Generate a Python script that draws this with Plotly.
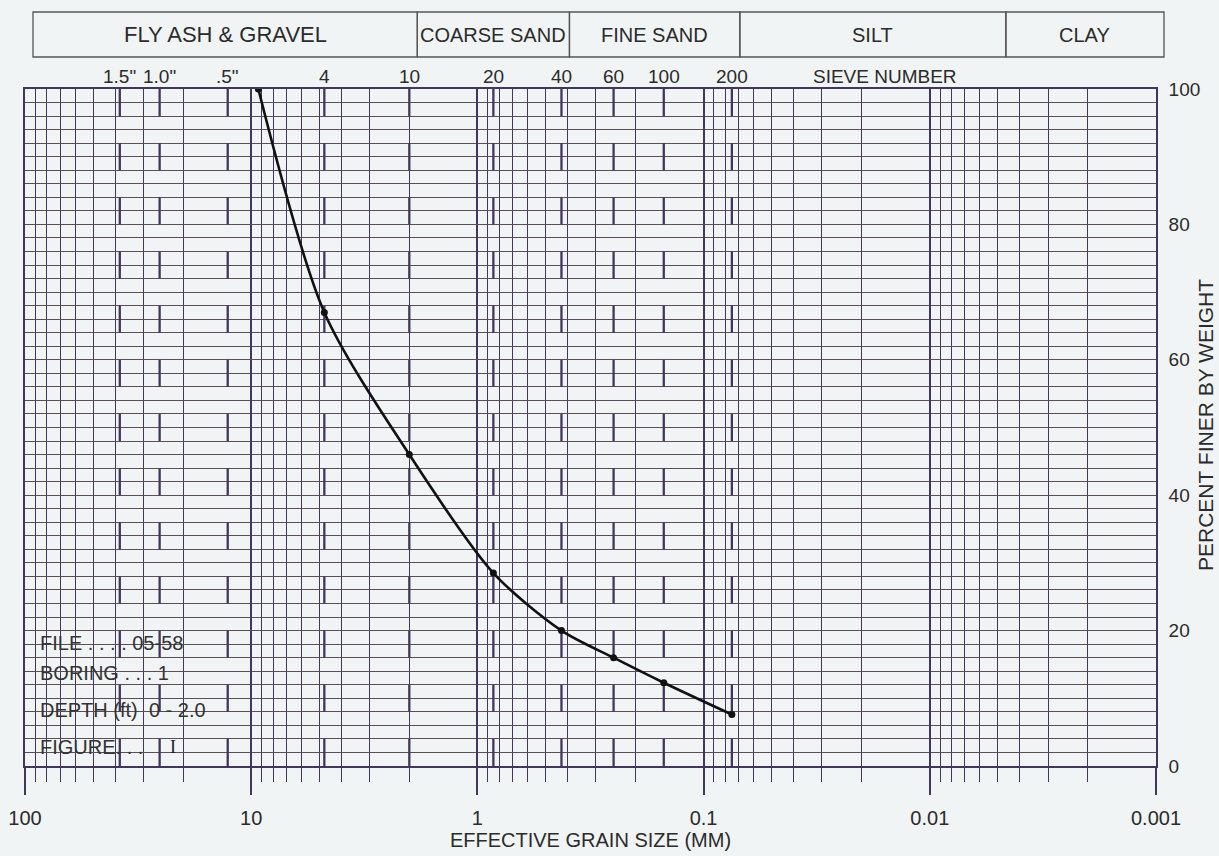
import math
import plotly.graph_objects as go

# ---------------- data ----------------
grain_size_mm = [9.3, 4.75, 2.0, 0.85, 0.425, 0.25, 0.15, 0.075]
percent_finer = [100, 67, 46, 28.5, 20, 16, 12.3, 7.6]

sieve_labels = ['1.5"', '1.0"', '.5"', '4', '10', '20', '40', '60', '100', '200']
sieve_sizes_mm = [38.1, 25.4, 12.7, 4.75, 2.0, 0.85, 0.425, 0.25, 0.15, 0.075]

band_labels = ["FLY ASH & GRAVEL", "COARSE SAND", "FINE SAND", "SILT", "CLAY"]
band_bounds_mm = [100, 2.0, 0.425, 0.075, 0.005, 0.001]

decade_vals = [100, 10, 1, 0.1, 0.01, 0.001]
decade_text = ["100", "10", "1", "0.1", "0.01", "0.001"]

info_labels = ["FILE . . . . 05-58", "BORING . . . 1", "DEPTH (ft)  0 - 2.0", "FIGURE. . ."]
info_pct = [18.1, 13.7, 8.2, 2.8]
figure_no = "I"

# ---------------- style ----------------
BG = "#f1f4f5"
VGRID = "#42355e"
HGRID = "#5e4c58"
TXT = "#2b2b2b"
FONT = "Liberation Sans, Arial, sans-serif"

LOG_HI, LOG_LO = 2, -3
PLOT_W, PLOT_H = 1131, 677


def xpaper(v, shift=0.0):
    return (LOG_HI - math.log10(v)) / (LOG_HI - LOG_LO) + shift


minor_vals = [k * 10 ** d for d in range(-3, 2) for k in range(2, 10)]

fig = go.Figure()

# sieve dashed markers
sx, sy = [], []
for s in sieve_sizes_mm:
    for top in range(100, 0, -8):
        sx += [s, s, None]
        sy += [top, top - 4, None]
fig.add_trace(go.Scatter(x=sx, y=sy, mode="lines",
                         line=dict(color=VGRID, width=2.3),
                         hoverinfo="skip", showlegend=False))

# gradation curve
fig.add_trace(go.Scatter(x=grain_size_mm, y=percent_finer, mode="lines+markers",
                         line=dict(color="#111111", width=2.6, shape="spline", smoothing=0.8),
                         marker=dict(color="#111111", size=7),
                         showlegend=False))

fig.update_layout(
    width=1219, height=856,
    margin=dict(l=25, r=63, t=89, b=90, autoexpand=False),
    paper_bgcolor=BG, plot_bgcolor=BG,
    font=dict(family=FONT, color=TXT, size=19),
    showlegend=False,
)

fig.update_xaxes(
    type="log", range=[LOG_HI, LOG_LO],
    tickmode="array", tickvals=decade_vals, ticktext=decade_text,
    ticks="outside", ticklen=27, tickwidth=1.6, tickcolor=VGRID,
    ticklabelstandoff=6,
    showgrid=True, gridcolor=VGRID, gridwidth=1.6,
    showline=True, linecolor=VGRID, linewidth=1.6, mirror=True,
    zeroline=False,
    tickfont=dict(size=20, color=TXT),
    title=dict(text="EFFECTIVE GRAIN SIZE (MM)", font=dict(size=20, color=TXT), standoff=2),
    minor=dict(tickmode="array", tickvals=minor_vals, ticks="outside", ticklen=14,
               tickwidth=1.4, tickcolor=VGRID, showgrid=True, gridcolor=VGRID, gridwidth=1.4),
)

fig.update_yaxes(
    range=[0, 100], side="right",
    tickmode="linear", tick0=0, dtick=20,
    ticks="", ticklabelstandoff=7,
    showgrid=True, gridcolor=HGRID, gridwidth=1.3,
    showline=True, linecolor=VGRID, linewidth=1.6, mirror=True,
    zeroline=False,
    tickfont=dict(size=19, color=TXT),
    minor=dict(dtick=2, showgrid=True, gridcolor=HGRID, gridwidth=1.2),
)

# y-axis title placed beside the tick labels
fig.add_annotation(xref="paper", yref="paper", x=(1205 - 25) / PLOT_W, y=(766 - 425) / PLOT_H,
                   xanchor="center", yanchor="middle", textangle=-90,
                   text="PERCENT FINER BY WEIGHT", showarrow=False,
                   font=dict(size=21, color=TXT))

# top classification band
band_shift = 8 / PLOT_W
y0b, y1b = 1 + 32 / PLOT_H, 1 + 77 / PLOT_H
for i, lab in enumerate(band_labels):
    xa = xpaper(band_bounds_mm[i], band_shift)
    xb = xpaper(band_bounds_mm[i + 1], band_shift)
    fig.add_shape(type="rect", xref="paper", yref="paper", x0=xa, x1=xb, y0=y0b, y1=y1b,
                  line=dict(color="#555555", width=1.3), fillcolor="rgba(0,0,0,0)")
    fig.add_annotation(xref="paper", yref="paper", x=(xa + xb) / 2, y=(y0b + y1b) / 2,
                       xanchor="center", yanchor="middle",
                       text=lab, showarrow=False,
                       font=dict(size=22 if i == 0 else 20, color=TXT))

# sieve labels
for lab, s in zip(sieve_labels, sieve_sizes_mm):
    fig.add_annotation(xref="paper", yref="paper", x=xpaper(s), y=1,
                       xanchor="center", yanchor="bottom",
                       text=lab, showarrow=False, font=dict(size=19, color=TXT))
fig.add_annotation(xref="paper", yref="paper", x=(885 - 25) / PLOT_W, y=1,
                   xanchor="center", yanchor="bottom",
                   text="SIEVE NUMBER", showarrow=False, font=dict(size=19, color=TXT))

# info block
for lab, p in zip(info_labels, info_pct):
    fig.add_annotation(xref="paper", yref="y", x=13 / PLOT_W, y=p,
                       xanchor="left", yanchor="middle",
                       text=lab, showarrow=False, font=dict(size=20, color="#333333"))
fig.add_annotation(xref="paper", yref="y", x=(173 - 25) / PLOT_W, y=info_pct[-1],
                   xanchor="center", yanchor="middle",
                   text=figure_no, showarrow=False,
                   font=dict(size=18, color="#222222", family="Liberation Serif, DejaVu Serif, serif"))

fig.write_html(
    "out.html",
    config={"displayModeBar": False},
    post_script="document.body.style.margin='0';document.body.style.background='%s';" % BG,
)
